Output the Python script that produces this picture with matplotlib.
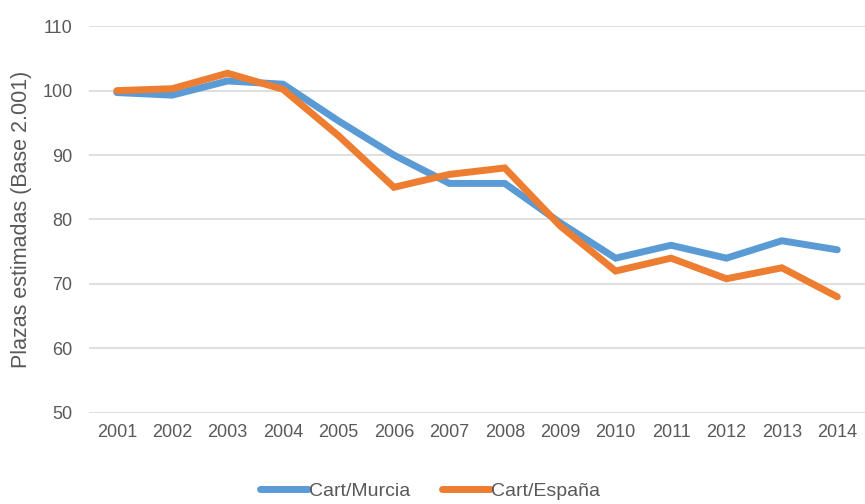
import matplotlib
matplotlib.use("Agg")
import matplotlib.pyplot as plt
import matplotlib.patheffects as pe

years = [2001, 2002, 2003, 2004, 2005, 2006, 2007, 2008, 2009, 2010, 2011, 2012, 2013, 2014]
murcia = [99.7, 99.3, 101.5, 101.0, 95.3, 90.0, 85.6, 85.6, 79.5, 74.0, 76.0, 74.0, 76.7, 75.3]
espana = [100.0, 100.3, 102.7, 100.2, 93.0, 85.0, 87.0, 88.0, 79.0, 72.0, 74.0, 70.8, 72.5, 68.0]

plt.rcParams['font.family'] = ['Liberation Sans', 'DejaVu Sans']
text_color = '#595959'

fig = plt.figure(figsize=(8.65, 5.04), dpi=100)
ax = fig.add_axes([0.103, 0.181, 0.897, 0.767])

shadow = [pe.SimpleLineShadow(offset=(1.5, -2), alpha=0.3, shadow_color='#444444'), pe.Normal()]
ax.plot(years, murcia, color='#5B9BD5', lw=5, solid_capstyle='round', solid_joinstyle='miter',
        label='Cart/Murcia', path_effects=shadow)
ax.plot(years, espana, color='#ED7D31', lw=5, solid_capstyle='round', solid_joinstyle='miter',
        label='Cart/España', path_effects=shadow)

ax.set_xlim(2000.5, 2014.5)
ax.set_ylim(50, 110)
ax.set_yticks(range(50, 111, 10))
ax.set_xticks(years)
ax.set_xticklabels([str(y) for y in years])
ax.grid(axis='y', color='#d9d9d9', lw=1.2)
ax.set_axisbelow(True)
for s in ax.spines.values():
    s.set_visible(False)
ax.tick_params(length=0, labelsize=13, colors=text_color, pad=8)
ax.tick_params(axis='y', pad=12)
ax.set_ylabel('Plazas estimadas (Base 2.001)', fontsize=15.5, color=text_color, labelpad=7)

handles, labels = ax.get_legend_handles_labels()
for h in handles:
    h.set_path_effects([])
leg = fig.legend(handles, labels, loc='center', bbox_to_anchor=(0.497, 0.026), ncol=2, frameon=False,
                 fontsize=14, handlelength=2.5, handletextpad=0.05, columnspacing=1.6)
for t in leg.get_texts():
    t.set_color(text_color)

fig.savefig('out.png', dpi=100)
